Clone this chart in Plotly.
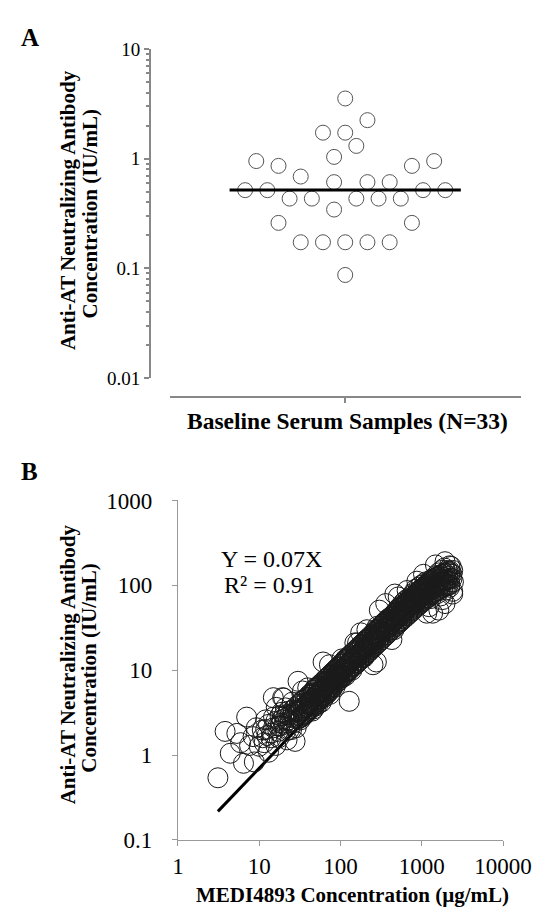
import plotly.graph_objects as go

# ---------------- Panel A data ----------------
a_offsets = [0, 1.0, -1.0, 0, 0.5, -0.5, -4.0, 4.0, -3.0, 3.0, -2.0, -0.5, 1.0, 2.0,
             -4.5, -3.5, 3.5, 4.5, -2.5, -1.5, 0.5, 1.5, 2.5, -0.5, -3.0, 3.0,
             -2.0, -1.0, 0, 1.0, 2.0, 0]
a_values = [3.55, 2.25, 1.73, 1.73, 1.31, 1.04, 0.953, 0.953, 0.861, 0.861, 0.688, 0.612, 0.612, 0.612,
            0.517, 0.517, 0.517, 0.517, 0.433, 0.433, 0.433, 0.433, 0.433, 0.344, 0.26, 0.26,
            0.173, 0.173, 0.173, 0.173, 0.173, 0.087]
a_median = 0.52
a_median_span = [-5.2, 5.2]
a_yticks = [0.01, 0.1, 1, 10]
a_yticktext = ["0.01", "0.1", "1", "10"]

# ---------------- Panel B data ----------------
# scattered / outlying points
b_x = [3.1, 3.8, 4.4, 5.3, 6.4, 7.0, 8.4, 8.7, 10, 9.2, 7.6, 5.9, 10.9, 11.5, 12,
       13, 14.2, 14.9, 16.2, 17, 18.5, 19.4, 20, 20, 21, 22, 23, 24, 25, 26, 27.6, 28, 29, 30, 30,
       15, 17.5, 19, 22.5, 25.5, 12.5, 16, 18, 21, 23.5, 26.5, 28.5,
       11, 12, 13, 14, 15, 16, 17, 18, 19, 20, 21, 22, 23, 24, 25, 26, 27, 28, 29, 30,
       32, 33, 34, 35, 36, 38, 39.5, 40, 41, 42, 44, 45, 46, 48, 49, 50, 52, 54, 55, 57, 58, 60, 61,
       62, 64, 66, 68, 70, 72, 73, 75, 77, 78, 80, 82, 84, 86, 88, 90, 92, 94, 96, 98, 100,
       36, 43, 47, 53, 56, 63, 67, 74, 79, 85, 93,
       104, 105, 108, 110, 112, 115, 118, 120, 125, 128, 130, 132, 135, 140, 145, 150, 150, 155,
       160, 162, 165, 170, 175, 177, 180, 185, 190, 195, 200, 205, 211, 215, 220, 225, 230, 235,
       240, 245, 250, 251, 255, 260, 265, 270, 276, 280, 285, 290, 295, 300, 300, 310, 320, 330,
       340, 350, 360, 360, 370, 380, 390, 400,
       115, 138, 158, 172, 198, 218, 242, 268, 305, 335, 365,
       410, 420, 429, 440, 450, 466, 466, 470, 480, 490, 500, 512, 520, 530, 545, 560, 575, 590,
       600, 610, 625, 640, 660, 660, 680, 700, 720, 740, 760, 780, 800, 820, 840, 860, 870, 880,
       900, 920, 940, 960, 980, 1000, 1020, 1050, 1050, 1080, 1100, 1120, 1150, 1150, 1180,
       430, 455, 515, 540, 585, 630, 690, 750, 830, 950, 1010, 1070,
       1200, 1230, 1250, 1300, 1360, 1360, 1400, 1470, 1470, 1500, 1550, 1600, 1620, 1650, 1700,
       1750, 1800, 1850, 1900, 1930, 1930, 1950, 2000, 2050, 2100, 2200, 2250, 2300, 2350, 2400,
       2350, 2450, 2400, 2200, 2400, 1700, 1800, 2000, 1300, 1550]
b_y = [0.54, 1.9, 1.05, 1.8, 0.8, 2.8, 1.65, 0.83, 1.27, 2.1, 1.3, 1.4, 1.97, 1.4, 2.6,
       1.08, 1.82, 4.75, 3.65, 2.2, 2.37, 4.75, 4.7, 2.9, 1.9, 1.51, 3.3, 2.5, 2.0, 3.1, 1.45, 2.7, 3.8, 7.4, 3.2,
       2.8, 1.6, 3.2, 2.4, 4.2, 1.7, 1.3, 2.9, 3.6, 2.0, 2.4, 2.1,
       1.6, 2.0, 2.3, 1.6, 2.1, 2.5, 1.9, 2.2, 2.6, 2.3, 2.7, 3.0, 2.6, 3.0, 2.8, 3.4, 2.9, 3.3, 3.0, 2.7,
       2.6, 3.6, 5.7, 2.9, 4.1, 3.2, 6.2, 3.5, 4.3, 4.8, 3.9, 3.3, 5.2, 4.4, 6.2, 3.8, 5.5, 4.6, 6.5, 5.0, 4.2, 5.9, 12.5,
       6.5, 5.2, 7.2, 6.1, 5.4, 7.8, 11.6, 6.6, 8.4, 6.0, 7.1, 9.0, 7.6, 6.4, 8.8, 10.2, 7.9, 9.4, 8.3, 11.0, 9.0,
       3.0, 4.0, 3.5, 4.0, 5.6, 4.8, 5.6, 5.2, 8.0, 9.8, 8.6,
       13.6, 8.2, 10.5, 12.0, 9.3, 8.6, 11.2, 13.0, 10.0, 4.3, 12.0, 14.5, 11.0, 13.3, 12.2, 21, 15.0, 11.8,
       14.0, 21, 16.8, 13.0, 18.0, 27.6, 15.5, 20, 17.2, 14.2, 19.0, 22.5, 30, 18.5, 16.4, 21.5, 24, 19.5,
       22, 26, 20.5, 11.6, 24, 28, 22.5, 30, 12.5, 25, 33, 27, 23.5, 51, 30, 28, 34, 26,
       31, 37, 61, 33, 29, 40, 35, 38,
       13.5, 10, 16.5, 14.8, 16.6, 23, 18.3, 26, 24.5, 35, 31,
       33, 42, 23, 37, 45, 43, 79, 40, 48, 36, 52, 73, 44, 55, 47, 58, 50, 62,
       44, 56, 66, 53, 87, 60, 70, 58, 66, 75, 62, 80, 68, 72, 90, 64, 112, 78,
       84, 95, 74, 88, 100, 82, 92, 135, 86, 105, 90, 110, 47, 96, 104,
       38, 30, 49, 38, 45, 58, 50, 56, 60, 65, 70, 76,
       98, 56, 112, 90, 47, 120, 105, 174, 95, 130, 110, 140, 51, 118, 100,
       150, 125, 108, 160, 190, 61, 135, 115, 150, 128, 170, 140, 167, 120, 150,
       135, 110, 79, 95, 85, 75, 68, 88, 70, 80]

# dense core of the cloud: x positions with lower / middle / upper readings of the band
band_x = [31, 33, 35, 37, 39, 41, 43, 45, 47, 49, 51, 53, 55, 57, 59, 62, 65, 68, 71, 74, 77, 81, 85,
          89, 93, 97, 102, 107, 112, 117, 122, 127, 133, 139, 146, 153, 160, 168, 176, 185, 194,
          203, 213, 224, 235, 247, 259, 272, 286, 300, 315, 331, 348, 365, 383, 402, 422, 443,
          465, 488, 512, 538, 565, 593, 623, 654, 687, 721, 757, 795, 835, 877, 921, 967, 1015,
          1066, 1119, 1175, 1234, 1296, 1361, 1429, 1500, 1575, 1654, 1737, 1824, 1915, 2011,
          2112, 2217]
band_lo = [2.7, 2.8, 3.0, 3.1, 3.2, 3.4, 3.5, 3.7, 3.8, 4.0, 4.2, 4.3, 4.5, 4.6, 4.8, 5.0, 5.2, 5.4,
           5.7, 5.9, 6.2, 6.4, 6.8, 7.1, 7.4, 7.7, 8.1, 8.5, 8.8, 9.2, 9.6, 9.9, 10.4, 10.8, 11.3,
           11.8, 12.3, 12.8, 13.4, 14.0, 14.6, 15.2, 15.9, 16.6, 17.4, 18.2, 19.0, 19.9, 20.8, 21.8,
           22.8, 23.9, 25.0, 26.1, 27.3, 28.5, 29.8, 31.1, 32.5, 33.9, 35.4, 37.0, 38.6, 40.3, 42.0,
           43.9, 45.8, 47.8, 49.8, 52.0, 54.2, 56.5, 58.8, 61.2, 63.8, 66.4, 69.0, 71.8, 74.5, 77.2,
           79.9, 82.6, 85.2, 87.7, 90.1, 92.4, 94.6, 96.7, 98.6, 100.4, 102.0]
band_mid = [3.3, 3.4, 3.6, 3.8, 4.0, 4.1, 4.3, 4.5, 4.7, 4.9, 5.0, 5.2, 5.4, 5.6, 5.8, 6.1, 6.3, 6.6,
            6.9, 7.1, 7.4, 7.8, 8.2, 8.5, 8.9, 9.3, 9.7, 10.2, 10.6, 11.1, 11.5, 12.0, 12.4, 13.0,
            13.5, 14.1, 14.6, 15.3, 16.0, 16.8, 17.5, 18.2, 19.0, 19.9, 20.8, 21.8, 22.7, 23.8, 24.9,
            26.0, 27.2, 28.5, 29.8, 31.1, 32.5, 34.0, 35.5, 37.0, 38.7, 40.4, 42.1, 44.0, 45.9, 47.9,
            50.0, 52.1, 54.4, 56.7, 59.2, 61.7, 64.3, 67.0, 69.8, 72.7, 75.7, 78.8, 81.9, 85.1, 88.4,
            91.6, 94.8, 98.0, 101.1, 104.1, 107.0, 109.7, 112.3, 114.8, 117.1, 119.2, 121.1]
band_hi = [4.0, 4.3, 4.4, 4.6, 4.8, 5.1, 5.3, 5.4, 5.8, 6.0, 6.2, 6.4, 6.6, 6.9, 7.0, 7.4, 7.8, 8.1,
           8.4, 8.7, 9.1, 9.5, 9.9, 10.4, 10.8, 11.3, 11.8, 12.3, 12.9, 13.4, 14.0, 14.5, 15.2, 15.8,
           16.5, 17.2, 17.9, 18.7, 19.5, 20.4, 21.3, 22.3, 23.3, 24.3, 25.4, 26.6, 27.8, 29.0, 30.3,
           31.7, 33.1, 34.6, 36.2, 37.8, 39.5, 41.3, 43.1, 45.0, 47.0, 49.1, 51.2, 53.4, 55.8, 58.2,
           60.7, 63.4, 66.1, 69.0, 71.9, 75.0, 78.2, 81.5, 84.9, 88.4, 92.0, 95.8, 99.6, 103.5,
           107.5, 111.4, 115.3, 119.2, 123.0, 126.6, 130.1, 133.4, 136.6, 139.6, 142.4, 145.0, 147.3]

fit_slope = 0.07
fit_x = [3.1, 2300]
fit_y = [fit_slope * v for v in fit_x]
b_ticks_x = [1, 10, 100, 1000, 10000]
b_ticks_y = [0.1, 1, 10, 100, 1000]

all_bx = b_x + band_x * 3
all_by = b_y + band_lo + band_mid + band_hi

# ---------------- Figure ----------------
W, H = 555, 914
def px(x):
    return x / W
def py(y):
    return 1 - y / H

SERIF = "Liberation Serif"

fig = go.Figure()

fig.add_trace(go.Scatter(
    x=a_offsets, y=a_values, mode="markers", xaxis="x", yaxis="y",
    marker=dict(symbol="circle", size=15, color="white", line=dict(color="#555555", width=1)),
    hoverinfo="skip"))
fig.add_trace(go.Scatter(
    x=a_median_span, y=[a_median, a_median], mode="lines", xaxis="x", yaxis="y",
    line=dict(color="black", width=3), hoverinfo="skip"))

fig.add_trace(go.Scatter(
    x=fit_x, y=fit_y, mode="lines", xaxis="x2", yaxis="y2",
    line=dict(color="black", width=3), hoverinfo="skip"))
fig.add_trace(go.Scatter(
    x=all_bx, y=all_by, mode="markers", xaxis="x2", yaxis="y2",
    marker=dict(symbol="circle-open", size=20, color="#1a1a1a", line=dict(width=1)),
    hoverinfo="skip"))

minor_vals = []
for d in [0.01, 0.1, 1]:
    for k in range(2, 10):
        minor_vals.append(d * k)

fig.update_layout(
    width=W, height=H, margin=dict(l=0, r=0, t=0, b=0),
    paper_bgcolor="white", plot_bgcolor="white", showlegend=False,
    font=dict(family=SERIF, color="black"),
    xaxis=dict(domain=[px(166), px(541)], range=[-7.9, 7.9], anchor="free", position=py(388),
               showline=True, linecolor="#888888", linewidth=1.5, ticks="outside",
               tickmode="array", tickvals=[0], ticklen=5, tickcolor="#888888", tickwidth=1.5,
               showticklabels=False, showgrid=False, zeroline=False, fixedrange=True),
    yaxis=dict(domain=[py(368), py(30)], type="log", range=[-2, 1], anchor="free", position=px(145),
               showline=True, linecolor="#888888", linewidth=1.5, ticks="outside",
               tickmode="array", tickvals=a_yticks, ticktext=a_yticktext, ticklen=5,
               tickcolor="#888888", tickwidth=1.5,
               tickfont=dict(family=SERIF, size=19, color="black"),
               minor=dict(ticks="outside", ticklen=3, tickcolor="#888888", tickmode="array",
                          tickvals=minor_vals, showgrid=False),
               showgrid=False, zeroline=False),
    xaxis2=dict(domain=[px(175), px(522)], type="log", range=[0, 4], anchor="y2",
                showline=True, linecolor="#999999", linewidth=1, ticks="outside",
                tickmode="array", tickvals=b_ticks_x, ticktext=[str(v) for v in b_ticks_x],
                ticklen=5, tickcolor="#999999",
                tickfont=dict(family=SERIF, size=23, color="black"),
                showgrid=False, zeroline=False),
    yaxis2=dict(domain=[py(843), py(494)], type="log", range=[-1, 3], anchor="x2",
                showline=True, linecolor="#999999", linewidth=1, ticks="outside",
                tickmode="array", tickvals=b_ticks_y, ticktext=["0.1", "1", "10", "100", "1000"],
                ticklen=5, tickcolor="#999999", ticklabelstandoff=15,
                tickfont=dict(family=SERIF, size=23, color="black"),
                showgrid=False, zeroline=False),
)

def ann(text, x, y, size, bold=True, angle=0):
    fig.add_annotation(text=("<b>%s</b>" % text) if bold else text,
                       x=px(x), y=py(y), xref="paper", yref="paper",
                       xanchor="center", yanchor="middle", showarrow=False,
                       textangle=angle, font=dict(family=SERIF, size=size, color="black"))

ann("A", 17, 18, 25)
ann("B", 17, 464, 25)
ann("Anti-AT Neutralizing Antibody", 57, 195, 21, angle=-90)
ann("Concentration (IU/mL)", 81, 199, 21, angle=-90)
ann("Baseline Serum Samples (N=33)", 356, 412, 23.5)
ann("Anti-AT Neutralizing Antibody", 57, 662, 21, angle=-90)
ann("Concentration (IU/mL)", 80, 666, 21, angle=-90)
ann("MEDI4893 Concentration (µg/mL)", 361, 900, 21)
ann("Y = 0.07X", 275, 554, 24, bold=False)
ann("R² = 0.91", 273, 581, 24, bold=False)

fig.write_html("out.html")
